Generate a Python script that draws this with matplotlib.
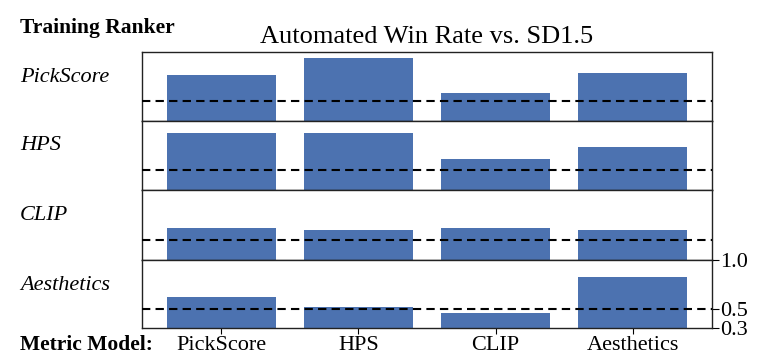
import matplotlib
matplotlib.use("Agg")
import matplotlib.pyplot as plt
import numpy as np

metric_models = ["PickScore", "HPS", "CLIP", "Aesthetics"]
training_rankers = ["PickScore", "HPS", "CLIP", "Aesthetics"]
win_pickscore = [0.765, 0.935, 0.58, 0.79]
win_hps = [0.875, 0.875, 0.615, 0.735]
win_clip = [0.618, 0.598, 0.618, 0.598]
win_aesthetics = [0.615, 0.515, 0.45, 0.825]
win_rates = [win_pickscore, win_hps, win_clip, win_aesthetics]
yticks = [0.3, 0.5, 1.0]
ytick_labels = ["0.3", "0.5", "1.0"]

plt.rcParams['font.family'] = ['Liberation Serif', 'DejaVu Serif']

W, H = 768, 362
fig = plt.figure(figsize=(W / 100, H / 100), dpi=100)

left, right = 142 / W, 712 / W
tops = [52, 121, 190, 260]
bottom_px = 328
bar_color = '#4C72B0'

x = np.arange(len(metric_models))
axes = []
for i, vals in enumerate(win_rates):
    top = tops[i]
    bot = tops[i + 1] if i + 1 < len(tops) else bottom_px
    ax = fig.add_axes([left, 1 - bot / H, right - left, (bot - top) / H])
    ax.bar(x, vals, width=0.8, color=bar_color, zorder=2)
    ax.axhline(0.5, color='black', linestyle='--', linewidth=1.5, dashes=(4, 2.5), zorder=3)
    ax.set_xlim(-0.58, 3.58)
    ax.set_ylim(0.3, 1.0)
    for s in ax.spines.values():
        s.set_linewidth(1.0)
        s.set_color('#222222')
    if i < 3:
        ax.set_xticks([])
        ax.set_yticks([])
    else:
        ax.set_xticks(x)
        ax.set_xticklabels(metric_models, fontsize=16)
        ax.yaxis.tick_right()
        ax.set_yticks(yticks)
        ax.set_yticklabels(ytick_labels, fontsize=16)
        ax.tick_params(axis='y', length=5, pad=1)
        ax.tick_params(axis='x', length=4, pad=2)
    fig.text(20 / W, 1 - (top + 25) / H, training_rankers[i], fontsize=16,
             style='italic', ha='left', va='center')
    axes.append(ax)

fig.text(20 / W, 1 - 28 / H, "Training Ranker", fontsize=15.5, weight='bold',
         ha='left', va='center')
fig.text(20 / W, 1 - 345 / H, "Metric Model:", fontsize=15.5, weight='bold',
         ha='left', va='center')
fig.text(427 / W, 1 - 37 / H, "Automated Win Rate vs. SD1.5", fontsize=19,
         ha='center', va='center')

fig.savefig("out.png", dpi=100)
